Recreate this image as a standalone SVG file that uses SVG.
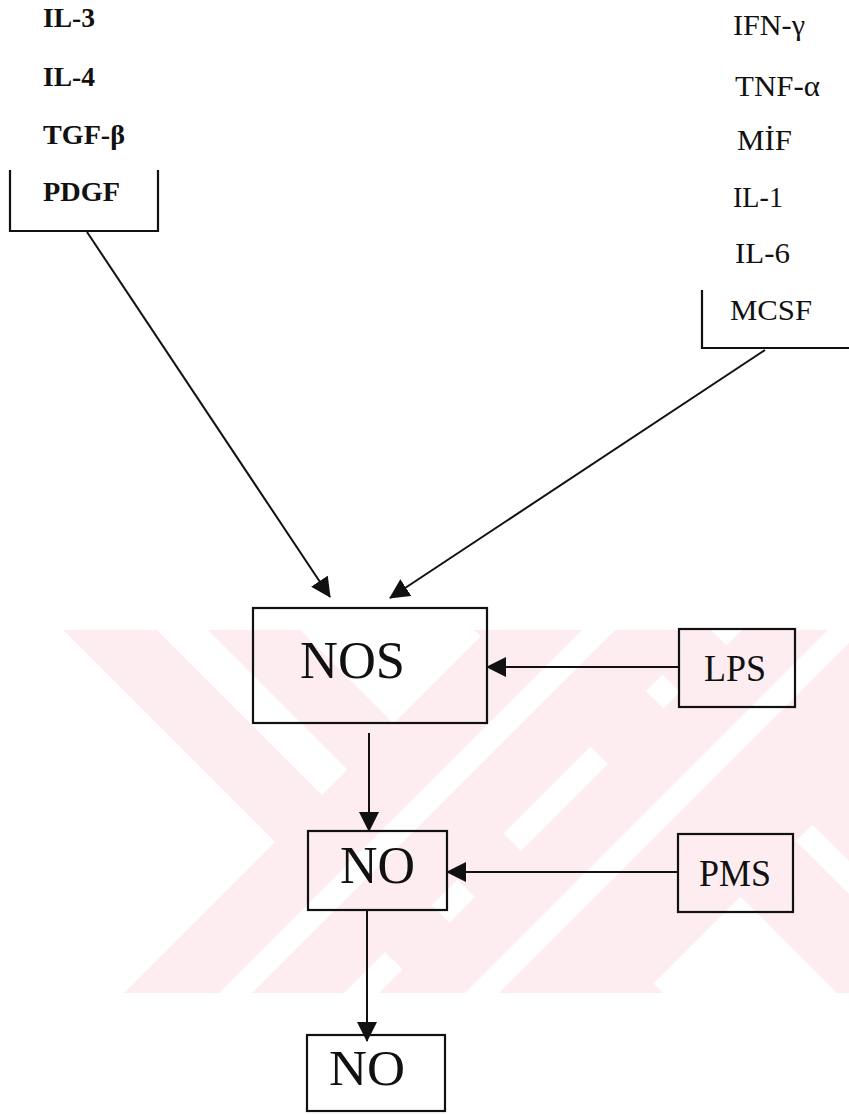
<svg xmlns="http://www.w3.org/2000/svg" width="849" height="1115" viewBox="0 0 849 1115">
<style>
.bg{fill:#ffffff}
.wm{fill:#fdedf0}
.wg{fill:#ffffff}
.lb{font-family:"Liberation Serif","Times New Roman",serif;font-weight:bold;font-size:27px;fill:#111}
.lr{font-family:"Liberation Serif","Times New Roman",serif;font-size:30px;fill:#111}
.big{font-family:"Liberation Serif","Times New Roman",serif;fill:#111}
.box{fill:none;stroke:#111;stroke-width:2.2}
.brk{fill:none;stroke:#111;stroke-width:2.2}
.edge{fill:none;stroke:#111;stroke-width:2}
</style>
<defs>
<marker id="ah" viewBox="0 0 20 20" refX="19" refY="10" markerWidth="20" markerHeight="20" markerUnits="userSpaceOnUse" orient="auto">
<path d="M0,0 L20,10 L0,20 z" fill="#111"/>
</marker>
<clipPath id="wmclip"><rect x="0" y="630" width="849" height="363"/></clipPath>
</defs>
<rect class="bg" x="0" y="0" width="849" height="1115"/>

<g id="watermark" clip-path="url(#wmclip)">
<polygon class="wm" points="-200,130 1100,1430 1100,1667 -200,367"/>
<polygon class="wg" points="-200,222 1100,1522 1100,1573 -200,273"/>
<polygon class="wm" points="-200,-281 1100,1019 1100,1256 -200,-44"/>
<polygon class="wg" points="-200,-188 1100,1112 1100,1145 -200,-155"/>
<polygon class="wm" points="-200,1317 1100,17 1100,237 -200,1537"/>
<polygon class="wg" points="-200,1412 1100,112 1100,145 -200,1445"/>
<polygon class="wm" points="-200,1572 1100,272 1100,537 -200,1837"/>
<polygon class="wg" points="-200,1658 1100,358 1100,392 -200,1692"/>
</g>

<g id="connectors">
<line id="e-left-nos" class="edge" x1="87" y1="232" x2="330" y2="597" marker-end="url(#ah)"/>
<line id="e-right-nos" class="edge" x1="765" y1="350" x2="390" y2="598" marker-end="url(#ah)"/>
<line id="e-nos-no" class="edge" x1="369" y1="733" x2="369" y2="831" marker-end="url(#ah)"/>
<line id="e-no-no2" class="edge" x1="367" y1="911" x2="367" y2="1041" marker-end="url(#ah)"/>
<line id="e-lps-nos" class="edge" x1="679" y1="667" x2="487" y2="667" marker-end="url(#ah)"/>
<line id="e-pms-no" class="edge" x1="678" y1="872" x2="447" y2="872" marker-end="url(#ah)"/>
</g>

<g id="n-left-group">
<text class="lb" x="43" y="27" textLength="52" lengthAdjust="spacingAndGlyphs">IL-3</text>
<text class="lb" x="43" y="86" textLength="52" lengthAdjust="spacingAndGlyphs">IL-4</text>
<text class="lb" x="43" y="144" textLength="82" lengthAdjust="spacingAndGlyphs">TGF-β</text>
<text class="lb" x="43" y="201" textLength="77" lengthAdjust="spacingAndGlyphs">PDGF</text>
<path class="brk" d="M10,170 V231 H158 V170"/>
</g>

<g id="n-right-group">
<text class="lr" x="733" y="35" textLength="72" lengthAdjust="spacingAndGlyphs">IFN-γ</text>
<text class="lr" x="735" y="96" textLength="85" lengthAdjust="spacingAndGlyphs">TNF-α</text>
<text class="lr" x="737" y="150" textLength="55" lengthAdjust="spacingAndGlyphs">MİF</text>
<text class="lr" x="733" y="207" textLength="50" lengthAdjust="spacingAndGlyphs">IL-1</text>
<text class="lr" x="735" y="263" textLength="55" lengthAdjust="spacingAndGlyphs">IL-6</text>
<text class="lr" x="730" y="320" textLength="82" lengthAdjust="spacingAndGlyphs">MCSF</text>
<path class="brk" d="M702,290 V348 H849"/>
</g>

<g id="n-nos">
<rect class="box" x="253" y="608" width="234" height="115"/>
<text class="big" x="300" y="678" font-size="53" textLength="105" lengthAdjust="spacingAndGlyphs">NOS</text>
</g>

<g id="n-lps">
<rect class="box" x="679" y="629" width="116" height="78"/>
<text class="big" x="704" y="681" font-size="38" textLength="62" lengthAdjust="spacingAndGlyphs">LPS</text>
</g>

<g id="n-no">
<rect class="box" x="308" y="831" width="139" height="79"/>
<text class="big" x="340" y="883" font-size="52" textLength="75" lengthAdjust="spacingAndGlyphs">NO</text>
</g>

<g id="n-pms">
<rect class="box" x="678" y="834" width="115" height="78"/>
<text class="big" x="699" y="886" font-size="38" textLength="72" lengthAdjust="spacingAndGlyphs">PMS</text>
</g>

<g id="n-no2">
<rect class="box" x="307" y="1035" width="138" height="76"/>
<text class="big" x="329" y="1085" font-size="50" textLength="76" lengthAdjust="spacingAndGlyphs">NO</text>
</g>
</svg>
